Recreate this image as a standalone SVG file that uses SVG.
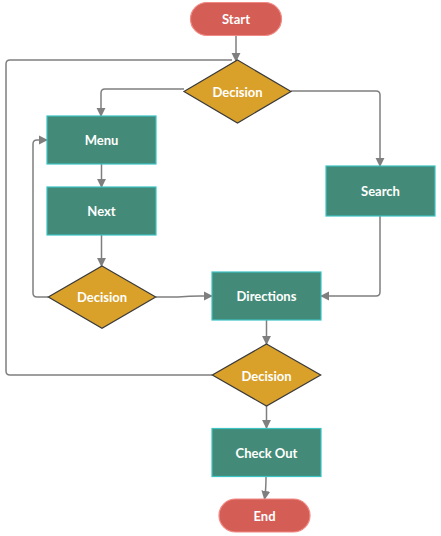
<svg xmlns="http://www.w3.org/2000/svg" width="441" height="536" viewBox="0 0 441 536">
<defs>
<marker id="arr" viewBox="0 0 10 10" refX="9" refY="5" markerWidth="9" markerHeight="10" markerUnits="userSpaceOnUse" orient="auto">
<path d="M0,0 L10,5 L0,10 z" fill="#7f7f7f"/>
</marker>
<style>
.term{fill:#d45d55;stroke:#f08a84;stroke-width:1.2}
.proc{fill:#438b78;stroke:#3cc3c3;stroke-width:1.2}
.dec{fill:#d9a12a;stroke:#3a3a3a;stroke-width:1.2}
.lbl{font-family:Lato,"Open Sans",sans-serif;font-weight:bold;font-size:13px;fill:#ffffff;text-anchor:middle;dominant-baseline:central}
.c{fill:none;stroke:#7f7f7f;stroke-width:1.5;marker-end:url(#arr)}
.cn{fill:none;stroke:#7f7f7f;stroke-width:1.5}
</style>
</defs>
<rect width="441" height="536" fill="#ffffff"/>
<g id="connectors">
<path class="c" d="M236,35 V61"/>
<path class="cn" d="M212,375 H10 Q6,375 6,371 V64 Q6,60 10,60 H232"/>
<path class="c" d="M184,89 H105 Q101,89 101,93 V116"/>
<path class="c" d="M291,91 H376 Q380,91 380,95 V166"/>
<path class="c" d="M101.5,164 V187"/>
<path class="c" d="M101.5,235 V266"/>
<path class="c" d="M48,297 H37 Q33,297 33,293 V144 Q33,140 37,140 H47"/>
<path class="c" d="M156,297 H178 Q190,296 200,296 H212"/>
<path class="c" d="M380,216 V292 Q380,296 376,296 H321"/>
<path class="c" d="M266.5,320 V344"/>
<path class="c" d="M266.5,406 V428"/>
<path class="c" d="M266,477 Q266,490 264.5,499"/>
</g>
<g id="start"><rect class="term" x="190.5" y="2.5" width="91" height="33" rx="16.5"/><text class="lbl" x="236" y="19">Start</text></g>
<g id="decision1"><polygon class="dec" points="237.5,60 291,91.5 237.5,123 184,91.5"/><text class="lbl" x="237.5" y="92">Decision</text></g>
<g id="menu"><rect class="proc" x="47" y="116" width="109" height="48"/><text class="lbl" x="101.5" y="140">Menu</text></g>
<g id="next"><rect class="proc" x="47" y="187" width="109" height="48"/><text class="lbl" x="101.5" y="211">Next</text></g>
<g id="search"><rect class="proc" x="326" y="166" width="109" height="50"/><text class="lbl" x="380.5" y="191">Search</text></g>
<g id="decision2"><polygon class="dec" points="102,266 155.7,297 102,328.3 48.3,297"/><text class="lbl" x="102" y="297">Decision</text></g>
<g id="directions"><rect class="proc" x="212" y="272" width="109" height="48"/><text class="lbl" x="266.5" y="296">Directions</text></g>
<g id="decision3"><polygon class="dec" points="266.5,344 320.7,375 266.5,406 212.3,375"/><text class="lbl" x="266.5" y="375.5">Decision</text></g>
<g id="checkout"><rect class="proc" x="212" y="428.5" width="109" height="48"/><text class="lbl" x="266.5" y="452.5">Check Out</text></g>
<g id="end"><rect class="term" x="219" y="499" width="91" height="33" rx="16.5"/><text class="lbl" x="264.5" y="516">End</text></g>
</svg>
